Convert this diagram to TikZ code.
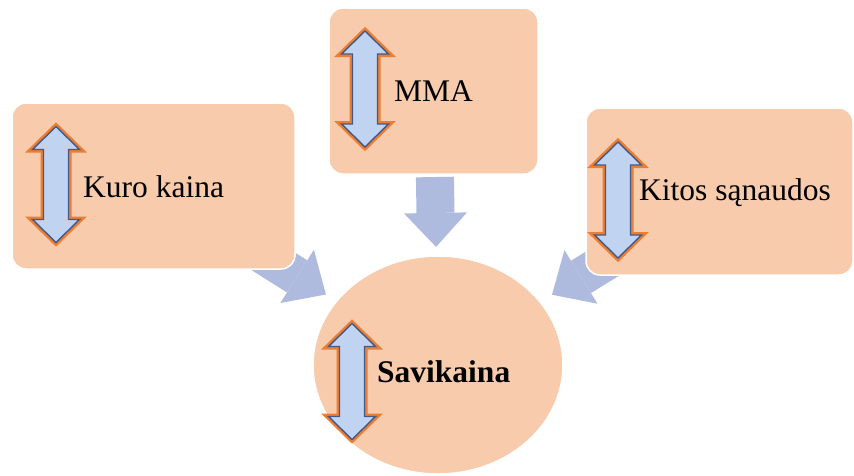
\documentclass[tikz,border=0pt]{standalone}
\usepackage{fontspec}
\setmainfont{Liberation Serif}
\usetikzlibrary{arrows.meta,calc,backgrounds,shapes.geometric}
\definecolor{peach}{HTML}{F7CBAC}
\definecolor{flowblue}{HTML}{AEBBDF}
\definecolor{iconfill}{HTML}{C0D4F2}
\definecolor{iconedge}{HTML}{41598B}
\definecolor{iconglow}{HTML}{ED7D31}
\tikzset{
  box/.style={rectangle, rounded corners=14pt, fill=peach, draw=white, line width=1.5pt, inner sep=0pt},
  bubble/.style={ellipse, fill=peach, draw=white, line width=1.5pt, inner sep=0pt},
  lbl/.style={inner sep=0pt, anchor=base west, font=\fontsize{31.5}{36}\selectfont},
  flow/.style={line width=38pt, flowblue, -{Triangle[length=34pt,width=63pt,line width=0pt]}},
  updown/.pic={
    \filldraw[fill=iconfill, draw=iconedge, line width=1.4pt, line join=miter,
      preaction={draw=iconglow, line width=6pt}]
      (0,-58) -- (23.5,-35) -- (12.5,-35) -- (12.5,35) -- (23.5,35) -- (0,58)
      -- (-23.5,35) -- (-12.5,35) -- (-12.5,-35) -- (-23.5,-35) -- cycle;
  }
}
\begin{document}
\begin{tikzpicture}[x=1pt,y=-1pt]
  \useasboundingbox (0,0) rectangle (854,475);
  % shapes
  \node[box, minimum width=283pt, minimum height=166pt] (kuro) at (153.5,186) {};
  \node[box, minimum width=209pt, minimum height=166pt] (mma) at (433.5,91) {};
  \node[box, minimum width=267pt, minimum height=167pt] (kitos) at (719.5,191.5) {};
  \node[bubble, minimum width=250pt, minimum height=218pt] (savi) at (438,365) {};
  % icons
  \pic (kuroicon) at (56,184.5) {updown};
  \pic (mmaicon) at (365,89) {updown};
  \pic (kitosicon) at (618,200) {updown};
  \pic (saviicon) at (352,381.5) {updown};
  % texts
  \node[lbl] (kurotxt) at (83,197) {Kuro kaina};
  \node[lbl] (mmatxt) at (394,101) {MMA};
  \node[lbl] (kitostxt) at (639,200) {Kitos sąnaudos};
  \node[lbl] (savitxt) at (377,382) {\bfseries Savikaina};
  % flows
  \begin{scope}[on background layer]
    \draw[flow] ($(kuro)!0.3!(savi)$) -- ($(kuro)!0.606!(savi)$);
    \draw[flow] ($(mma)!0.314!(savi)$) -- ($(mma)!0.569!(savi)$);
    \draw[flow] ($(kitos)!0.3!(savi)$) -- ($(kitos)!0.595!(savi)$);
  \end{scope}
\end{tikzpicture}
\end{document}
